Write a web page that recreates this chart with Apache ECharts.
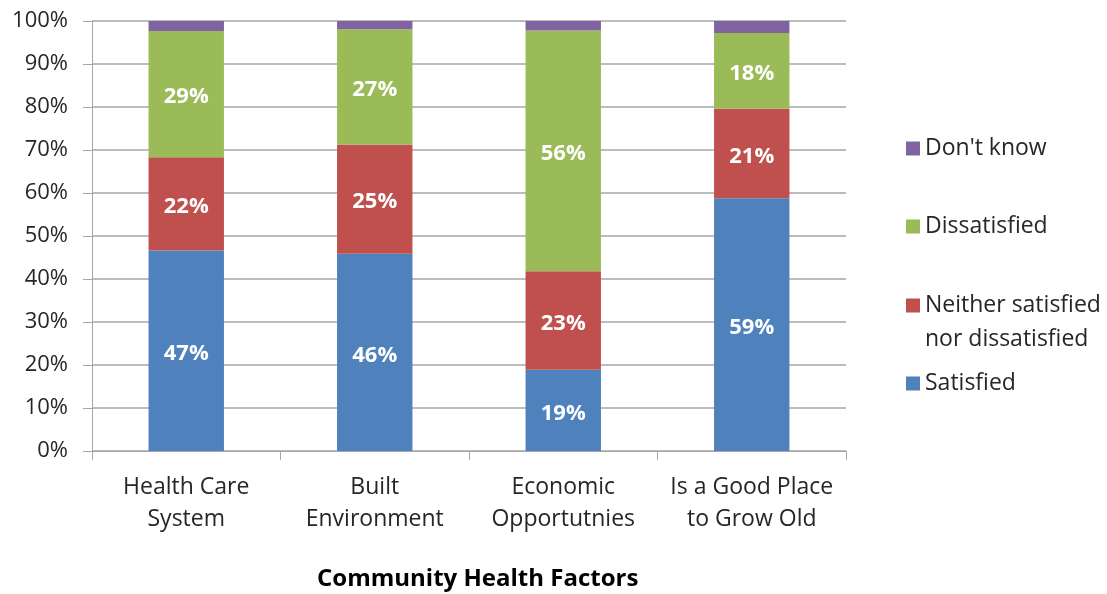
<!DOCTYPE html>
<html>
<head>
<meta charset="utf-8">
<script src="https://cdn.jsdelivr.net/npm/echarts@6/dist/echarts.min.js"></script>
<style>
  html, body { margin: 0; padding: 0; background: #fff; }
  #chart { width: 1107px; height: 594px; }
</style>
</head>
<body>
<div id="chart"></div>
<script>
// categories and stacked percentages
const categories = ['Health Care\nSystem', 'Built\nEnvironment', 'Economic\nOpportutnies', 'Is a Good Place\nto Grow Old']
const satisfied = [46.6, 45.9, 18.9, 58.8]
const neither = [21.7, 25.4, 22.9, 20.8]
const dissatisfied = [29.4, 26.8, 56.0, 17.6]
const dontKnow = [2.3, 1.9, 2.2, 2.8]
const yTicks = [0, 10, 20, 30, 40, 50, 60, 70, 80, 90, 100]

const FONT = 'Open Sans'
const TEXT = '#262626'
const GRID = '#a6a6a6'

const chart = echarts.init(document.getElementById('chart'))

function barSeries(name, data, color, showLabel) {
  return {
    name,
    type: 'bar',
    stack: 'total',
    data,
    barWidth: '40%',
    itemStyle: { color },
    label: {
      show: showLabel,
      position: 'inside',
      offset: [0, 3],
      color: '#fff',
      fontFamily: FONT,
      fontWeight: 'bold',
      fontSize: 22,
      formatter: p => Math.round(p.value) + '%'
    }
  }
}

function legendAt(name, top, extra) {
  return Object.assign({
    data: [name],
    orient: 'vertical',
    left: 906,
    top,
    padding: 0,
    itemWidth: 14,
    itemHeight: 14,
    itemGap: 0,
    icon: 'rect',
    selectedMode: false,
    textStyle: { fontFamily: FONT, fontSize: 23, color: TEXT }
  }, extra || {})
}

chart.setOption({
  animation: false,
  backgroundColor: '#fff',
  title: {
    text: 'Community Health Factors',
    left: 317,
    top: 567,
    padding: 0,
    textStyle: { fontFamily: FONT, fontSize: 24, fontWeight: 'bold', color: '#000' }
  },
  legend: [
    legendAt("Don't know", 137),
    legendAt('Dissatisfied', 215),
    legendAt('Neither satisfied nor dissatisfied', 260, {
      // blank first row keeps the marker level with the first text line
      formatter: () => '{pad|}\n{t|Neither satisfied}\n{t|nor dissatisfied}',
      textStyle: {
        fontFamily: FONT, fontSize: 23, color: TEXT,
        rich: {
          pad: { lineHeight: 34, fontSize: 23 },
          t: { lineHeight: 34, fontSize: 23, fontFamily: FONT, color: TEXT }
        }
      }
    }),
    legendAt('Satisfied', 372)
  ],
  grid: { left: 92, right: 261, top: 21, bottom: 143, containLabel: false },
  xAxis: {
    type: 'category',
    data: categories,
    axisLine: { lineStyle: { color: GRID, width: 1 } },
    axisTick: { show: true, length: 9, lineStyle: { color: GRID } },
    axisLabel: {
      interval: 0,
      margin: 20,
      fontFamily: FONT,
      fontSize: 23,
      lineHeight: 32,
      color: TEXT
    }
  },
  yAxis: {
    type: 'value',
    min: yTicks[0],
    max: yTicks[yTicks.length - 1],
    interval: 10,
    axisLine: { show: true, lineStyle: { color: GRID, width: 1 } },
    axisTick: { show: true, length: 9, lineStyle: { color: GRID } },
    splitLine: { lineStyle: { color: GRID, width: 1.5 } },
    axisLabel: {
      margin: 24,
      fontFamily: FONT,
      fontSize: 22,
      color: TEXT,
      formatter: v => v + '%'
    }
  },
  series: [
    barSeries('Satisfied', satisfied, '#4f81bd', true),
    barSeries('Neither satisfied nor dissatisfied', neither, '#c0504d', true),
    barSeries('Dissatisfied', dissatisfied, '#9bbb59', true),
    barSeries("Don't know", dontKnow, '#8064a2', false)
  ]
})
</script>
</body>
</html>
